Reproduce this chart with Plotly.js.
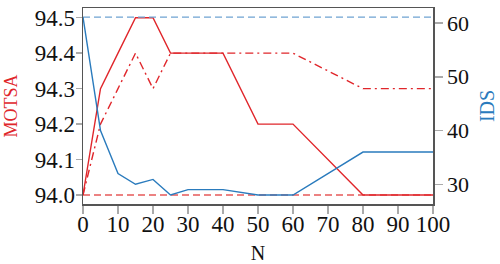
<!DOCTYPE html>
<html>
<head>
<meta charset="utf-8">
<script src="https://cdn.plot.ly/plotly-3.0.1.min.js"></script>
<style>html,body{margin:0;padding:0;background:#fff}#chart{width:500px;height:264px}</style>
</head>
<body>
<div id="chart"></div>
<script>
const N = [0, 5, 10, 15, 20, 25, 30, 40, 50, 60, 80, 100];
const motsaSolid = [94.0, 94.3, 94.4, 94.5, 94.5, 94.4, 94.4, 94.4, 94.2, 94.2, 94.0, 94.0];
const motsaDashDot = [94.0, 94.2, 94.3, 94.4, 94.3, 94.4, 94.4, 94.4, 94.4, 94.4, 94.3, 94.3];
const idsSolid = [61.1, 40.0, 32.0, 30.0, 30.9, 28.0, 29.0, 29.0, 28.0, 28.0, 36.0, 36.0];
const baseN = [0, 100];
const motsaBase = [94.0, 94.0];
const idsBase = [61.1, 61.1];
const xTicks = [0, 10, 20, 30, 40, 50, 60, 70, 80, 90, 100];
const motsaTicks = [94.0, 94.1, 94.2, 94.3, 94.4, 94.5];
const idsTicks = [30, 40, 50, 60];

const red = '#e0262b';
const blue = '#2a7bbd';
const serif = "'Liberation Serif', 'Times New Roman', serif";

const traces = [
  {x: baseN, y: idsBase, yaxis: 'y2', mode: 'lines', line: {color: '#6fa3d2', width: 1.4, dash: '7px,4px'}},
  {x: baseN, y: motsaBase, mode: 'lines', line: {color: '#e65a5a', width: 1.4, dash: '7px,4px'}},
  {x: N, y: motsaDashDot, mode: 'lines', line: {color: red, width: 1.4, dash: '8px,4px,2px,4px'}},
  {x: N, y: motsaSolid, mode: 'lines', line: {color: red, width: 1.4}},
  {x: N, y: idsSolid, yaxis: 'y2', mode: 'lines', line: {color: blue, width: 1.4}}
];

const tickFont = {family: serif, size: 23, color: '#111'};

const layout = {
  width: 500, height: 264,
  margin: {l: 83, r: 67, t: 8, b: 60, pad: 0},
  showlegend: false,
  paper_bgcolor: '#fff', plot_bgcolor: '#fff',
  font: tickFont,
  xaxis: {
    range: [0, 100], tickvals: xTicks, ticks: 'outside', ticklen: 8, tickwidth: 1.5, tickcolor: '#aaa',
    showline: true, linecolor: '#555', linewidth: 1.5, mirror: true, showgrid: false, zeroline: false,
    tickfont: tickFont, ticklabelstandoff: -9,
    title: {text: 'N', font: {family: serif, size: 20, color: '#111'}, standoff: 13}
  },
  yaxis: {
    range: [93.9746, 94.5274], tickvals: motsaTicks, ticktext: motsaTicks.map(v => v.toFixed(1)),
    ticks: 'outside', ticklen: 6, tickwidth: 1.5, tickcolor: '#aaa',
    showline: true, linecolor: '#555', linewidth: 1.5, showgrid: false, zeroline: false,
    tickfont: tickFont, ticklabelstandoff: -4,
    title: {text: 'MOTSA', font: {family: serif, size: 18, color: red}, standoff: 12}
  },
  yaxis2: {
    overlaying: 'y', side: 'right',
    range: [26.33, 62.8], tickvals: idsTicks,
    ticks: 'outside', ticklen: 8, tickwidth: 1.5, tickcolor: '#aaa',
    showline: true, linecolor: '#555', linewidth: 1.5, showgrid: false, zeroline: false,
    tickfont: {family: serif, size: 22, color: '#111'},
    title: {text: 'IDS', font: {family: serif, size: 20, color: blue}, standoff: 12}
  }
};

Plotly.newPlot('chart', traces, layout, {staticPlot: true, displayModeBar: false});
</script>
</body>
</html>
